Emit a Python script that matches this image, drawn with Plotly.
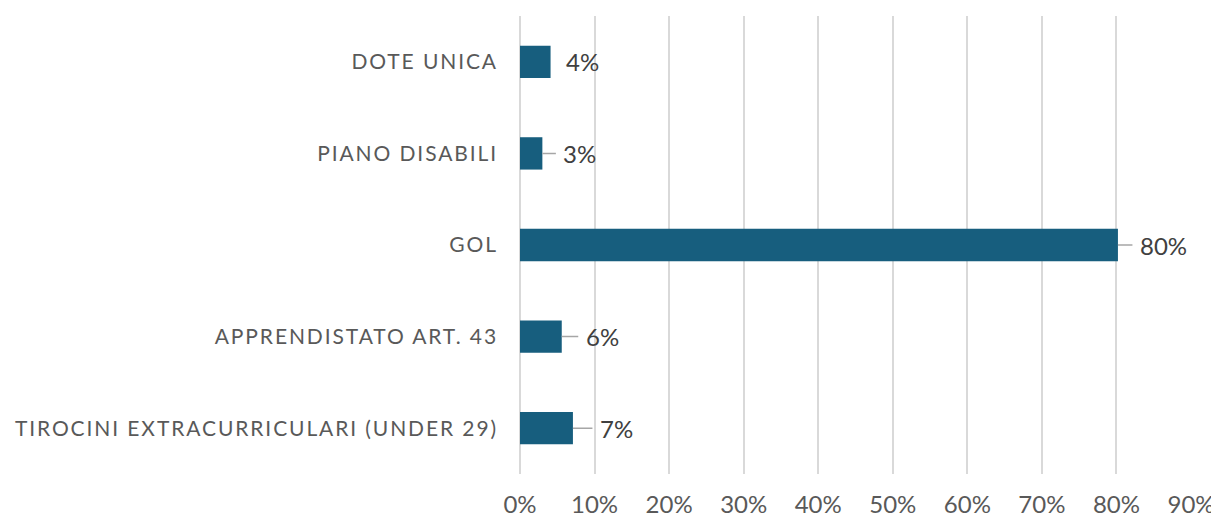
import plotly.graph_objects as go

categories = ["DOTE UNICA", "PIANO DISABILI", "GOL", "APPRENDISTATO ART. 43", "TIROCINI EXTRACURRICULARI (UNDER 29)"]
values = [0.041, 0.030, 0.802, 0.056, 0.071]
tick_vals = [0, 0.1, 0.2, 0.3, 0.4, 0.5, 0.6, 0.7, 0.8, 0.9]
tick_text = ["0%", "10%", "20%", "30%", "40%", "50%", "60%", "70%", "80%", "90%"]

# label placement styling (pixel offsets of label from bar end, leader shown or not)
label_offsets = [14, 20, 21, 23, 26]
show_leader = [False, True, True, True, True]

bar_color = "#175e7e"
font_family = "Lato, 'Open Sans', sans-serif"


def spaced(s, px=1.9):
    return f'<span style="letter-spacing:{px}px">{s}</span>'


fig = go.Figure()
fig.add_trace(go.Bar(
    y=categories, x=values, orientation="h",
    marker=dict(color=bar_color, line=dict(width=0)),
    width=0.353, hoverinfo="skip",
))

annotations = []
for cat, v, off, lead in zip(categories, values, label_offsets, show_leader):
    annotations.append(dict(
        x=v, y=cat, xref="x", yref="y",
        text=f"{round(v*100):d}%",
        showarrow=True, ax=off, ay=0, axref="pixel", ayref="pixel",
        xanchor="left", yanchor="middle",
        arrowhead=0, arrowwidth=1.5,
        arrowcolor="#a6a6a6" if lead else "rgba(0,0,0,0)",
        startstandoff=6.5, standoff=0,
        font=dict(family=font_family, size=24, color="#404040"),
        borderpad=0,
    ))

# the page body has a default 8px margin, so the figure is sized/offset for it
fig.update_layout(
    width=1211, height=510,
    margin=dict(l=512, r=28, t=8, b=44),
    paper_bgcolor="white", plot_bgcolor="white",
    showlegend=False,
    annotations=annotations,
    font=dict(family=font_family, size=21, color="#595959"),
    xaxis=dict(
        range=[0, 0.9], tickvals=tick_vals, ticktext=tick_text,
        showgrid=True, gridcolor="#d9d9d9", gridwidth=2,
        zeroline=True, zerolinecolor="#d9d9d9", zerolinewidth=2,
        showline=False, ticks="",
        ticklabelstandoff=14,
        automargin=False,
        tickfont=dict(family=font_family, size=24, color="#595959"),
        fixedrange=True,
    ),
    yaxis=dict(
        categoryorder="array", categoryarray=categories[::-1],
        tickvals=categories, ticktext=[spaced(c) for c in categories],
        showgrid=False, zeroline=False, showline=False, ticks="",
        ticklabelstandoff=21,
        automargin=False,
        tickfont=dict(family=font_family, size=21, color="#595959"),
        fixedrange=True,
    ),
)

fig.write_html("out.html")
